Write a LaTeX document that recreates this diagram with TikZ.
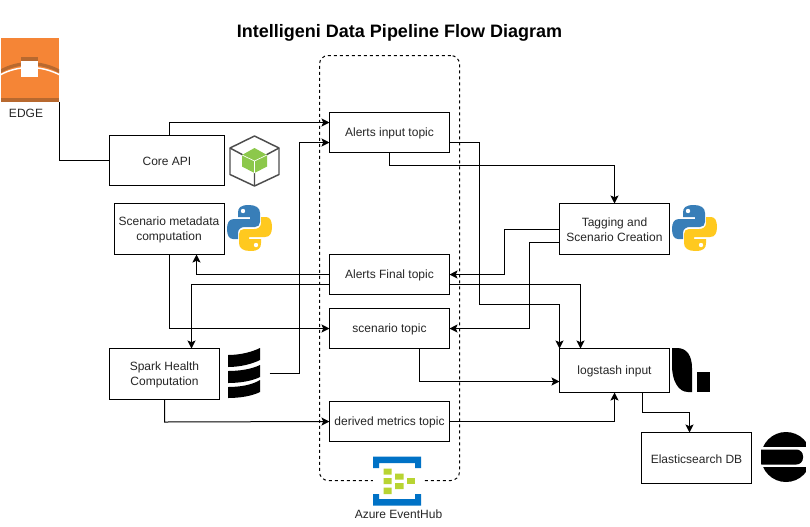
\documentclass[tikz,border=0pt]{standalone}
\usepackage{fontspec}
\setmainfont{Liberation Sans}
\usetikzlibrary{arrows.meta}
\definecolor{awsorange}{HTML}{F58536}
\definecolor{awsdark}{HTML}{B8692F}
\definecolor{nodegreen}{HTML}{8CC84B}
\definecolor{nodegrey}{HTML}{4D4D4D}
\definecolor{pyblue}{HTML}{387EB8}
\definecolor{pyyellow}{HTML}{FFC91F}
\definecolor{azblue}{HTML}{0072C6}
\definecolor{azgreen}{HTML}{B8D432}
\newcommand{\pylogo}[2]{%
  \begin{scope}[shift={(#1,#2)}]
    \fill[pyblue] (22,0) .. controls (13,0) and (11,3) .. (11,8) -- (11,12) -- (23,12) -- (23,14) -- (7,14)
      .. controls (2,14) and (0,18) .. (0,24) .. controls (0,30) and (2,34) .. (6,34) -- (11,34) -- (11,28)
      .. controls (11,24) and (14,22) .. (18,22) -- (28,22) .. controls (31,22) and (33,20) .. (33,17) -- (33,8)
      .. controls (33,3) and (29,0) .. (22,0) -- cycle;
    \fill[white] (16,6) circle[radius=2.2];
    \fill[pyyellow] (23,46) .. controls (32,46) and (34,43) .. (34,38) -- (34,34) -- (22,34) -- (22,32) -- (38,32)
      .. controls (43,32) and (45,28) .. (45,22) .. controls (45,16) and (43,12) .. (39,12) -- (34,12) -- (34,18)
      .. controls (34,22) and (31,24) .. (27,24) -- (17,24) .. controls (14,24) and (12,26) .. (12,29) -- (12,38)
      .. controls (12,43) and (16,46) .. (23,46) -- cycle;
    \fill[white] (29,40) circle[radius=2.2];
  \end{scope}}
\tikzset{
  x=0.75pt, y=-0.75pt,
  every node/.style={font=\fontsize{9}{11.25}\selectfont, text=black!85, align=center},
  box/.style={draw=black, fill=white, line width=0.75pt, outer sep=0pt, inner sep=0pt},
  boxtext/.style={label={[yshift=-0.9pt, inner sep=0pt]center:#1}},
  link/.style={draw=black, line width=0.75pt},
  flow/.style={link, -{Stealth[length=6pt,width=6pt,inset=1.3pt]}},
  caption/.style={inner sep=0pt}
}
\begin{document}
\begin{tikzpicture}
\useasboundingbox (0,0) rectangle (810,526);
\fill[white] (0,0) rectangle (810,526);

% Event hub container
\node[draw=black, dashed, dash pattern=on 2.25pt off 2.25pt, line width=0.75pt, rounded corners=6.5pt,
      minimum width=105pt, minimum height=318.75pt, outer sep=0pt, inner sep=0pt] (hub) at (389.5,268) {};

\node[font=\fontsize{13.5}{16}\bfseries\selectfont, text=black, inner sep=0pt] (title) at (399.5,32.5) {Intelligeni Data Pipeline Flow Diagram};

% Boxes
\node[box, minimum width=86.25pt, minimum height=37.5pt, boxtext={Core API}] (core) at (167,160.5) {};
\node[box, minimum width=82.5pt, minimum height=38.25pt, boxtext={Scenario metadata\\computation}] (meta) at (169,229) {};
\node[box, minimum width=82.5pt, minimum height=38.25pt, boxtext={Spark Health\\Computation}] (spark) at (164.5,374) {};
\node[box, minimum width=90pt, minimum height=30pt, boxtext={Alerts input topic}] (alertsin) at (389.5,132.5) {};
\node[box, minimum width=90pt, minimum height=30pt, boxtext={Alerts Final topic}] (alertsfin) at (389.5,274.5) {};
\node[box, minimum width=90pt, minimum height=30pt, boxtext={scenario topic}] (scen) at (389.5,328.5) {};
\node[box, minimum width=90pt, minimum height=30pt, boxtext={derived metrics topic}] (derived) at (389.5,421.5) {};
\node[box, minimum width=82.5pt, minimum height=38.25pt, boxtext={Tagging and\\Scenario Creation}] (tag) at (614.5,229) {};
\node[box, minimum width=82.5pt, minimum height=33pt, boxtext={logstash input}] (log) at (614.5,370.5) {};
\node[box, minimum width=82.5pt, minimum height=38.25pt, boxtext={Elasticsearch DB}] (es) at (696.5,458) {};

% EDGE icon
\node[minimum width=43.5pt, minimum height=48pt, inner sep=0pt, outer sep=0pt, fill=awsorange] (edge) at (30,70) {};
\begin{scope}
  \clip (1,38) rectangle (59,102);
  \fill[awsdark] (1,98) rectangle (59,102);
  \draw[awsdark, line width=2.4pt] (0,71.5) .. controls (18,61) and (41,61) .. (60,71.5);
  \draw[white, line width=1.1pt] (0,75) .. controls (18,65) and (41,65) .. (60,75);
  \fill[awsdark] (21,57) rectangle (38,61);
  \fill[white] (21,61) rectangle (38,77);
\end{scope}
\node[caption] (edgelabel) at (26,113) {EDGE};

% Node.js icon
\draw[nodegrey, line width=1.1pt, line join=round] (254.5,136) -- (279,148) -- (279,174.5) -- (254.5,186) -- (230,174.5) -- (230,148) -- cycle;
\draw[nodegrey, line width=1.1pt] (230,148) -- (243,155) (279,148) -- (266,155) (254.5,173) -- (254.5,186);
\fill[nodegreen] (254.5,148) -- (267,155) -- (267,166.5) -- (254.5,173) -- (242,166.5) -- (242,155) -- cycle;
\draw[white, line width=0.5pt] (242,155) -- (254.5,161) -- (267,155) (254.5,161) -- (254.5,173);

% Python icons
\pylogo{227}{205}
\pylogo{672}{205}

% Scala-like stack icon
\fill[black] (228,355) .. controls (240,355) and (252,352) .. (260,348) -- (260,360) .. controls (252,364) and (240,367) .. (228,367) -- cycle;
\fill[black] (228,371) .. controls (240,371) and (252,369) .. (260,365) -- (260,377) .. controls (252,381) and (240,383) .. (228,383) -- cycle;
\fill[black] (228,387) .. controls (240,387) and (252,385) .. (260,380) -- (260,392) .. controls (252,396) and (240,398) .. (228,398) -- cycle;

% Logstash icon
\fill[black] (672,348) -- (677,348) .. controls (687,348) and (692,356) .. (692,368) -- (692,392) -- (688,392) .. controls (678,392) and (672,380) .. (672,366) -- cycle;
\fill[black] (697,372) rectangle (710,392);

% Elasticsearch icon
\begin{scope}
  \clip (786,457) circle[radius=25];
  \fill[black] (760,431) -- (806,431) -- (806,447) -- (760,447) -- cycle;
  \fill[black] (760,467) -- (806,467) -- (806,483) -- (760,483) -- cycle;
\end{scope}
\fill[black, rounded corners=5pt] (755,449.5) rectangle (803,464.5);
\fill[white] (755,446) rectangle (761,468);

% Azure EventHub icon
\fill[white] (373,456) rectangle (423,506);
\fill[azblue] (373,456.5) -- (421,456.5) -- (421,468) -- (415,468) -- (415,463) -- (379,463) -- (379,468) -- (373,468) -- cycle;
\fill[azblue] (373,494) -- (379,494) -- (379,499) -- (415,499) -- (415,494) -- (421,494) -- (421,505.5) -- (373,505.5) -- cycle;
\fill[azgreen] (383.5,468.5) rectangle (391.5,474.5) (383.5,478) rectangle (391.5,484) (383.5,487.5) rectangle (391.5,494);
\fill[azgreen] (395,473.5) rectangle (403.5,479.5) (395,483) rectangle (403.5,489);
\fill[azgreen] (406.5,478) rectangle (414.5,484);
\node[caption] (hublabel) at (398.5,514.5) {Azure EventHub};

% Free end of the Spark line
\coordinate (sparkout) at (269.5,373.5);

% Connectors
\draw[link] (edge.south east) -- (59,160.5) -- (core.west);
\draw[flow] ([xshift=1.875pt]core.north) |- ([yshift=7.5pt]alertsin.west);
\draw[flow] (sparkout) -- (299.5,373.5) -- (299.5,142.5) -- ([yshift=-7.5pt]alertsin.west);
\draw[flow] (meta.south) |- (scen.west);
\draw[flow] (alertsfin.west) -| ([xshift=20.625pt]meta.south);
\draw[flow] ([yshift=-7.5pt]alertsfin.west) -| ([xshift=20.25pt]spark.north);
\draw[flow] (spark.south) -- (164.5,422) -- (derived.west);
\draw[flow] ([yshift=-7.5pt]alertsin.east) -- (479.5,142.5) -- (479.5,304.5) -| (log.north west);
\draw[flow] (alertsin.south) -- (389.5,165.5) -| (tag.north);
\draw[flow] (tag.west) -- (504.5,229) -- (504.5,274.5) -- (alertsfin.east);
\draw[flow] ([yshift=-10.125pt]tag.west) -- (529.5,242.5) -- (529.5,328.5) -- (scen.east);
\draw[flow] ([yshift=-7.5pt]alertsfin.east) -| ([xshift=-25.5pt]log.north);
\draw[flow] ([xshift=22.5pt]scen.south) |- ([yshift=-8.25pt]log.west);
\draw[flow] (derived.east) -| (log.south);
\draw[flow] ([xshift=20.625pt]log.south) -- (642,412) -- (689.5,412) -- ([xshift=-5.25pt]es.north);
\end{tikzpicture}
\end{document}
